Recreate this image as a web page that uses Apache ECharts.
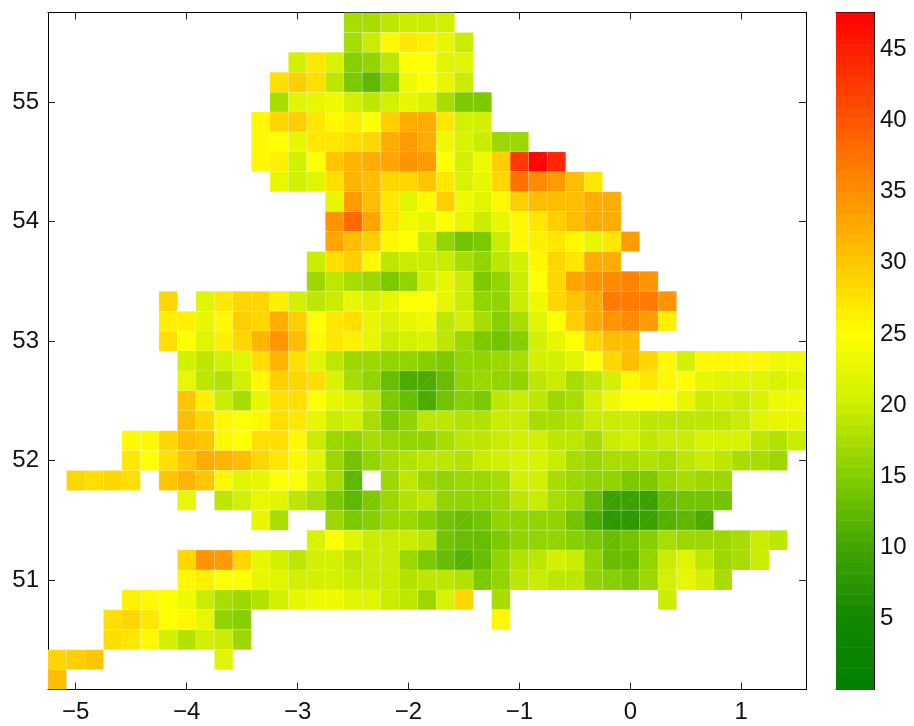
<!DOCTYPE html>
<html><head><meta charset="utf-8">
<style>html,body{margin:0;padding:0;background:#fff}#c{width:914px;height:726px}</style>
<script src="https://cdn.jsdelivr.net/npm/echarts@6/dist/echarts.min.js"></script>
</head><body><div id="c"></div>
<script>
const lonTicks = [-5,-4,-3,-2,-1,0,1];
const latTicks = [51,52,53,54,55];
const barTicks = [5,10,15,20,25,30,35,40,45];
const lonMin = -5.25, lonMax = 1.5833, latMin = 50.0833, latMax = 55.75, cellDeg = 1/6;
const valueMin = 0, valueMax = 47.6;
const colorStops = [[0,[0,128,0]],[5,[20,135,0]],[10,[65,165,0]],[15,[130,205,0]],[20,[205,238,0]],[25,[255,255,0]],[47.6,[255,0,0]]];
// first column index of each row, top row first
const rowFirstColumn = [16,16,13,12,12,11,11,11,12,15,15,15,14,14,6,6,6,7,7,7,7,4,4,1,7,11,14,7,7,4,3,3,0,0];
const n = null;
const rowValues = [
[17.7,17.7,18.7,19.8,19.8,20.3],
[17.2,19.7,25.5,27.5,26.5,23,19.7],
[20.3,27,21.3,15.2,15.7,18.7,25,25,22.3,21.8],
[28,29.5,28,19.2,14.2,12,15.7,23.5,25,22.8,19.7],
[17.7,21.8,23,23.5,20.3,19.2,20.8,22.8,21.3,17.7,14.7,14.7],
[26,28.5,29.5,27,26,26.5,25,29.5,32.5,32,27,20.8,20.8],
[26,25,23,27.5,27.5,28,29,32,34,32,23.5,21.3,20,16.7,16.7],
[26,26.5,20.8,25,30,31.5,32,33,34.5,33.5,25,20.8,23.5,29.5,42.5,47.6,44],
[23,20.8,21.8,28,31.5,31,29,28.5,30,27,21.3,22.8,29,37.5,35.5,33.5,30.5,27.5],
[23,34,30.5,27,22.3,26,29.5,23.5,21.8,26,29.5,30.5,30.5,31,32.5,32.5],
[34.5,38,33,27.5,23.5,22.8,25,22.8,20,22.8,25.5,27,29.5,30.5,32,32],
[33,30.5,29.5,26,25,20,15.7,13.7,14.7,20,25.5,26.5,27,25.5,22.8,27,33.5],
[19.7,28,29.5,26,19.2,20,19.7,19.7,17.2,16.2,18.7,20.3,26,28.5,27.5,32.5,32],
[16.7,19.2,17.7,16.7,14.2,15.7,20.8,23,19.7,14.7,15.7,19.7,25,29,33,34.5,35,36,34.5],
[28.5,n,22.3,27.5,28.5,29,26.5,20.3,19.2,20,22.8,21.3,23,25,25,23,19.7,15.7,16.2,20,23.5,28.5,30,32.5,36.5,36.5,36.5,34.5],
[26.5,26.5,22.8,26,29.5,29,32.5,29.5,25,27,28,23,21.3,22.8,23.5,18.7,20.3,17.7,15.2,17.7,21.8,25,29.5,32.5,34.5,35,33.5,26.5],
[28,25,21.8,26.5,28.5,31.5,34.5,31,26,27,26.5,23,20,20.3,21.3,18.7,16.7,14.7,13.7,15.2,20.3,22.8,25,28.5,31,30.5],
[20.3,18.7,20.3,22.3,28,31.5,28,21.8,18.7,16.7,16.7,15.7,16.2,15.2,14.7,15.7,15.7,16.7,17.7,20.3,20.3,21.8,25,28.5,30.5,29,25.5,20.8,25.5,26,25.5,25.5,23.5,23.5],
[23,18.7,18.2,20.3,26,29.5,28.5,28,21.3,17.7,15.7,12.7,11,11,12.7,15.7,16.7,15.7,15.7,18.7,19.7,17.7,19.2,20.3,26,27,26,25,23,22.3,22.3,22.3,21.3,21.8],
[30,26.5,20,17.2,23,28,28,25,23,21.3,18.7,14.7,13.2,11,13.7,15.2,14.7,18.7,19.7,19.2,16.7,17.2,20.8,23.5,25,25,25,23,19.7,20.3,19.7,21.3,23.5,23.5],
[30.5,29,26,25,25.5,28,27.5,23,20,20.3,17.7,14.7,15.7,19.2,19.2,18.2,18.2,20,20,17.7,17.7,18.2,19.7,20,20,19.2,18.7,19.2,18.7,19.2,20,22.3,23,23],
[26,26,29,30.5,30,25.5,25,28,28,26,20,16.7,16.2,17.2,16.7,16.2,16.2,17.7,18.7,18.7,20,20.3,20.3,18.7,18.7,17.7,20,20.3,19.2,20,20,21.3,21.3,21.3,19.2,18.2,19.7],
[27.5,25,28,30,32.5,31.5,31,28.5,27.5,26,21.8,16.7,13.7,15.7,17.7,18.2,18.7,18.7,18.2,19.7,20.3,21.3,21.3,19.7,17.7,16.7,17.2,17.7,18.2,17.7,18.7,19.7,18.7,17.7,17.7,16.7],
[28.5,28,28.5,28,n,30,31.5,30,26,21.8,22.8,25,25,20.8,17.7,12,n,16.7,18.7,16.7,16.2,16.7,16.7,17.7,20.3,20.8,17.7,16.7,15.7,15.7,14.7,14.7,16.7,17.7,16.7,16.7],
[23,n,18.7,20.8,22.8,21.8,18.7,17.2,14.2,12,14.7,16.7,18.2,18.7,15.7,15.7,15.7,16.7,19.2,20,17.2,16.7,12.7,9.5,9,9.5,12.7,13.7,13.7,13.7],
[22.8,17.7,n,n,16.7,14.2,15.2,16.7,16.7,15.2,13.7,13.2,13.7,15.7,16.2,15.7,15.7,13.7,11,8,7.5,9,11.5,12,11],
[21.3,25,22.3,20,19.7,20,18.7,13.7,12.7,12.7,14.7,16.2,15.7,16.2,15.2,14.7,13.2,13.7,15.2,17.2,16.7,16.7,16.7,17.7,20,18.7],
[28.5,34.5,33.5,29,22.8,20.3,19.2,20.3,20.3,19.2,20,19.7,16.7,14.7,13.2,11.5,13.2,15.7,18.2,19.2,20.3,20,15.7,12.7,13.2,15.7,20,22.3,19.2,16.7,17.7,20],
[26,26.5,25,25,23,22.3,20.8,20.3,20.3,19.7,20,19.7,18.2,18.7,18.7,18.2,14.7,15.7,18.7,20,19.2,18.7,16.2,15.2,14.7,16.7,20.3,23,20.3,17.2],
[26.5,26,25,23.5,20,17.2,16.7,18.2,20.3,23,23.5,23.5,22.3,21.8,20,18.7,16.7,21.3,28.5,n,17.7,n,n,n,n,n,n,n,n,19.7],
[28,29,27.5,25,26,22.8,16.2,15.2,n,n,n,n,n,n,n,n,n,n,n,n,n,26],
[28,27.5,26,20.3,18.2,20.8,20,16.7],
[28.5,29.5,30,n,n,n,n,n,n,21.8],
[30.5]
];

function colorOf(v){
  let level = Math.min(63, Math.floor((v - valueMin) / (valueMax - valueMin) * 64));
  const q = valueMin + (level + 0.5) * (valueMax - valueMin) / 64;
  for (let i = 1; i < colorStops.length; i++) {
    const [a, ca] = colorStops[i-1], [b, cb] = colorStops[i];
    if (q <= b) {
      const t = (q - a) / (b - a);
      return 'rgb(' + ca.map((c, j) => Math.round(c + (cb[j] - c) * t)).join(',') + ')';
    }
  }
  return 'rgb(255,0,0)';
}

const cells = [];
rowValues.forEach((row, r) => row.forEach((v, i) => {
  if (v === null) return;
  const col = rowFirstColumn[r] + i;
  cells.push([lonMin + col * cellDeg, latMax - (r + 1) * cellDeg, v]);
}));
const barLevels = [];
for (let i = 0; i < 64; i++) barLevels.push([0, valueMin + i * (valueMax - valueMin) / 64, valueMin + (i + 0.5) * (valueMax - valueMin) / 64]);

const fmt = v => String(v).replace('-', '\u2212');
const textStyle = {color:'#111', fontFamily:'Liberation Sans', fontSize:24};
const lineCfg = {show:true, onZero:false, lineStyle:{color:'#000', width:1}};
function axis(type, gridIndex, position, min, max, ticks, labelled, margin){
  return {type:'value', gridIndex, position, min, max, scale:true, splitLine:{show:false},
    axisLine:lineCfg,
    axisTick:{show:true, inside:true, length:7, customValues:ticks, lineStyle:{color:'#222', width:1}},
    axisLabel: labelled ? Object.assign({show:true, customValues:ticks, formatter:fmt, margin, hideOverlap:false}, textStyle) : {show:false}};
}

const chart = echarts.init(document.getElementById('c'), null, {renderer:'canvas'});
chart.setOption({
  animation:false,
  backgroundColor:'#fff',
  grid:[
    {left:48, top:12.5, width:758, height:677},
    {left:836, top:12.5, width:38, height:677}
  ],
  xAxis:[
    axis('x',0,'bottom',lonMin,lonMax,lonTicks,true,11),
    axis('x',0,'top',lonMin,lonMax,lonTicks,false),
    {type:'value',gridIndex:1,position:'bottom',min:0,max:1,splitLine:{show:false},axisLine:lineCfg,axisTick:{show:false},axisLabel:{show:false}},
    {type:'value',gridIndex:1,position:'top',min:0,max:1,splitLine:{show:false},axisLine:lineCfg,axisTick:{show:false},axisLabel:{show:false}}
  ],
  yAxis:[
    axis('y',0,'left',latMin,latMax,latTicks,true,9),
    axis('y',0,'right',latMin,latMax,latTicks,false),
    axis('y',1,'left',valueMin,valueMax,barTicks,false),
    axis('y',1,'right',valueMin,valueMax,barTicks,true,6)
  ],
  series:[
    {type:'custom', coordinateSystem:'cartesian2d', xAxisIndex:0, yAxisIndex:0, clip:true, data:cells,
     encode:{x:0,y:1}, silent:true,
     renderItem(params, api){
       const lon = api.value(0), lat = api.value(1), v = api.value(2);
       const a = api.coord([lon, lat]), b = api.coord([lon + cellDeg, lat + cellDeg]);
       const fill = colorOf(v);
       return {type:'group', children:[
         {type:'rect', shape:{x:a[0], y:b[1], width:b[0]-a[0], height:a[1]-b[1]},
          style:{fill, stroke:'rgba(255,255,255,0.14)', lineWidth:1}},
         {type:'line', shape:{x1:a[0], y1:a[1], x2:b[0], y2:b[1]},
          style:{stroke:'rgba(255,255,255,0.22)', lineWidth:0.5}}
       ]};
     }},
    {type:'custom', coordinateSystem:'cartesian2d', xAxisIndex:2, yAxisIndex:2, data:barLevels,
     encode:{x:0,y:1}, silent:true,
     renderItem(params, api){
       const lo = api.value(1), hi = lo + (valueMax - valueMin) / 64;
       const a = api.coord([0, lo]), b = api.coord([1, hi]);
       return {type:'rect', shape:{x:a[0], y:b[1], width:b[0]-a[0], height:a[1]-b[1]+0.5},
         style:{fill:colorOf(api.value(2))}};
     }}
  ]
});
</script></body></html>
